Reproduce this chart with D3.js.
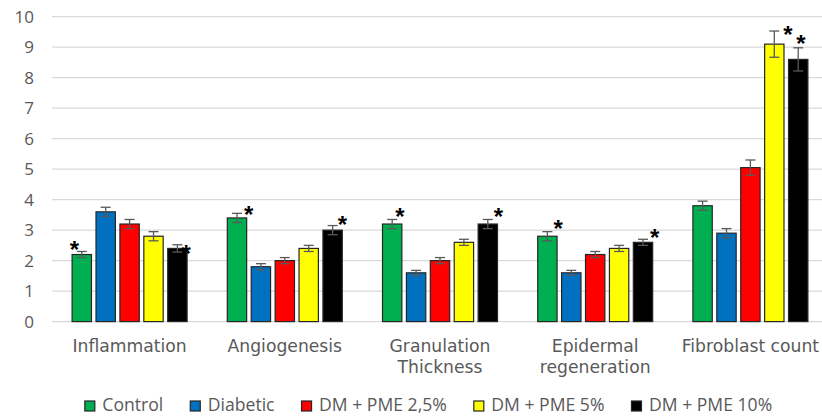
<!DOCTYPE html>
<html><head><meta charset="utf-8">
<script src="https://cdn.jsdelivr.net/npm/d3@7/dist/d3.min.js"></script>
<style>body{margin:0;background:#fff}svg{display:block}</style>
</head><body>
<svg id="c" width="822" height="416"></svg>
<script>
// ---- data ----
const categories = ["Inflammation", "Angiogenesis", "Granulation\nThickness", "Epidermal\nregeneration", "Fibroblast count"];
const seriesNames = ["Control", "Diabetic", "DM + PME 2,5%", "DM + PME 5%", "DM + PME 10%"];
const control  = [2.2, 3.4, 3.2, 2.8, 3.8];
const diabetic = [3.6, 1.8, 1.6, 1.6, 2.9];
const dm25     = [3.2, 2.0, 2.0, 2.2, 5.05];
const dm5      = [2.8, 2.4, 2.6, 2.4, 9.1];
const dm10     = [2.4, 3.0, 3.2, 2.6, 8.6];
const controlErr  = [0.10, 0.15, 0.15, 0.15, 0.15];
const diabeticErr = [0.15, 0.10, 0.08, 0.08, 0.15];
const dm25Err     = [0.15, 0.10, 0.10, 0.10, 0.25];
const dm5Err      = [0.15, 0.10, 0.10, 0.10, 0.43];
const dm10Err     = [0.12, 0.15, 0.15, 0.10, 0.38];
const yTicks = [0, 1, 2, 3, 4, 5, 6, 7, 8, 9, 10];
// significance marks: [category index, series index]
const significant = [[0,0],[0,4],[1,0],[1,4],[2,0],[2,4],[3,0],[3,4],[4,3],[4,4]];

// ---- styles / layout ----
const colors = ["#00b050", "#0070c0", "#ff0000", "#ffff00", "#000000"];
const values = [control, diabetic, dm25, dm5, dm10];
const errors = [controlErr, diabeticErr, dm25Err, dm5Err, dm10Err];
const font = "'Open Sans', sans-serif";
const labelFont = "'DejaVu Sans', sans-serif";
const textColor = "#595959";
// small nudges for the asterisk text boxes (dx from bar right edge, dy from cap)
const starNudge = {"0,0": [-17, -7], "0,4": [-1, 4], "1,0": [2, -4], "1,4": [0, -6], "2,0": [-2, -8],
                   "2,4": [1, -8], "3,0": [1, -8], "3,4": [2, -7], "4,3": [4, -2], "4,4": [-7, -9]};

const svg = d3.select("#c");
const x0 = d3.scaleBand().domain(categories).range([52, 828]).padding(0);
const groupW = 115;
const x1 = d3.scaleBand().domain(seriesNames).range([0, groupW]).paddingInner(0.19);
const y = d3.scaleLinear().domain([0, 10]).range([321.6, 16.7]);
const groupOff = (x0.bandwidth() - groupW) / 2;

// gridlines
svg.append("g").selectAll("line").data(yTicks).join("line")
  .attr("x1", 52).attr("x2", 822)
  .attr("y1", d => y(d)).attr("y2", d => y(d))
  .attr("stroke", "#d9d9d9").attr("stroke-width", 1.3);

// y axis labels via d3 axis
const yAxis = svg.append("g").attr("transform", "translate(34,0)")
  .call(d3.axisLeft(y).tickValues(yTicks).tickSize(0).tickPadding(0).tickFormat(d3.format("d")));
yAxis.select(".domain").remove();
yAxis.selectAll("text").attr("font-family", font).attr("font-size", 17).attr("fill", textColor);

// bars
const rows = [];
categories.forEach((c, ci) => seriesNames.forEach((s, si) => rows.push({c, ci, s, si, v: values[si][ci], e: errors[si][ci]})));
const bx = d => x0(d.c) + groupOff + x1(d.s);

svg.append("g").selectAll("rect").data(rows).join("rect")
  .attr("x", bx).attr("width", x1.bandwidth())
  .attr("y", d => y(d.v)).attr("height", d => y(0) - y(d.v))
  .attr("fill", d => colors[d.si]).attr("stroke", "#262626").attr("stroke-width", 1.2);

// error bars
const eg = svg.append("g").attr("stroke", "#595959").attr("stroke-width", 1.3);
rows.forEach(d => {
  const cx = bx(d) + x1.bandwidth() / 2;
  eg.append("line").attr("x1", cx).attr("x2", cx).attr("y1", y(d.v + d.e)).attr("y2", y(d.v - d.e));
  eg.append("line").attr("x1", cx - 5).attr("x2", cx + 5).attr("y1", y(d.v + d.e)).attr("y2", y(d.v + d.e));
  eg.append("line").attr("x1", cx - 5).attr("x2", cx + 5).attr("y1", y(d.v - d.e)).attr("y2", y(d.v - d.e));
});

// asterisks
svg.append("g").selectAll("text").data(significant).join("text")
  .attr("x", ([ci, si]) => x0(categories[ci]) + groupOff + x1(seriesNames[si]) + x1.bandwidth() + starNudge[ci + "," + si][0])
  .attr("y", ([ci, si]) => y(values[si][ci] + errors[si][ci]) + starNudge[ci + "," + si][1] + 13.5)
  .attr("text-anchor", "middle")
  .attr("font-family", "'Liberation Sans', Arial, sans-serif").attr("font-weight", "bold").attr("font-size", 24)
  .attr("fill", "#000").text("*");

// category labels (one text per line)
const xl = svg.append("g");
categories.forEach(c => {
  c.split("\n").forEach((line, i) => xl.append("text")
    .attr("x", x0(c) + x0.bandwidth() / 2).attr("y", 351.7 + i * 21.6)
    .attr("text-anchor", "middle").attr("font-family", labelFont).attr("font-size", 17.2)
    .attr("fill", textColor).text(line));
});

// legend
const lg = svg.append("g");
const items = seriesNames.map((s, i) => {
  const g = lg.append("g");
  g.append("rect").attr("x", 0).attr("y", -10).attr("width", 10).attr("height", 10)
    .attr("fill", colors[i]).attr("stroke", "#262626").attr("stroke-width", 1.2);
  const t = g.append("text").attr("x", 17.5).attr("y", 0).attr("font-family", font).attr("font-size", 17.6)
    .attr("fill", textColor).text(s);
  return {g, w: 17.5 + t.node().getComputedTextLength()};
});
const gap = 27;
const total = d3.sum(items, d => d.w) + gap * (items.length - 1);
let lx = 428.5 - total / 2;
items.forEach(it => { it.g.attr("transform", `translate(${lx},411)`); lx += it.w + gap; });
</script>
</body></html>
